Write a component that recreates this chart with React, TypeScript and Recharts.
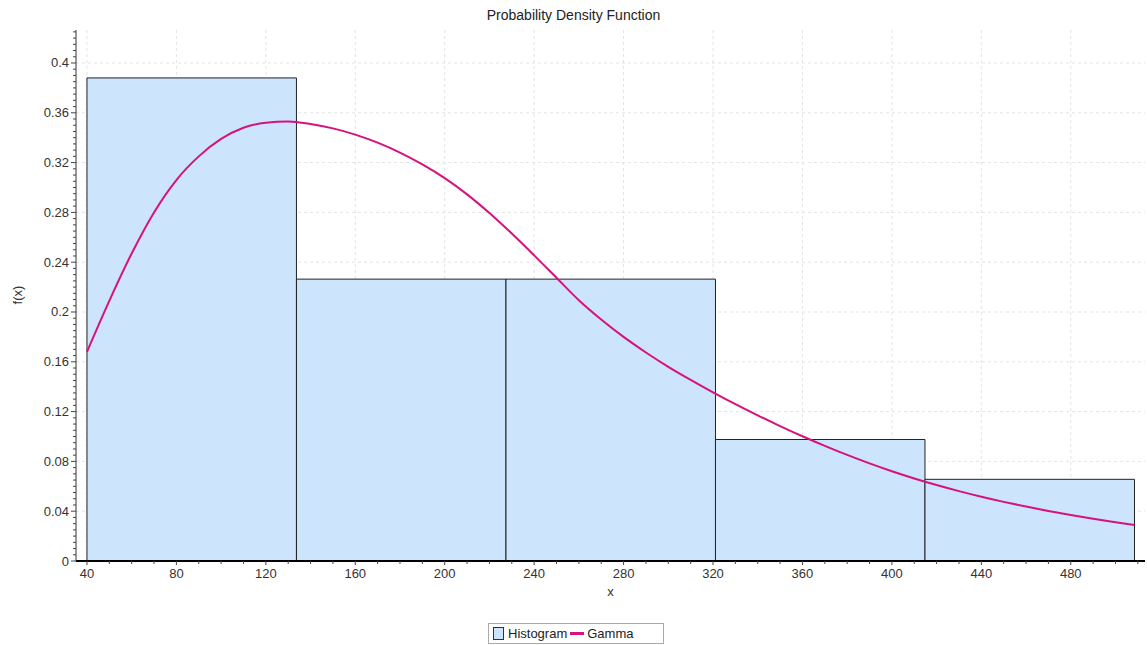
import React from "react";
import { ComposedChart, Line, XAxis, YAxis, CartesianGrid, ReferenceArea, Label } from "recharts";

// histogram bins
const binStart = [40, 133.7, 227.4, 321.1, 414.8];
const binEnd = [133.7, 227.4, 321.1, 414.8, 508.5];
const binDensity = [0.388, 0.2264, 0.2264, 0.0976, 0.0656];

// fitted gamma density, sampled off the curve
const gammaX = [40, 50, 60, 70, 80, 90, 100, 110, 120, 130, 140, 150, 160, 170, 180, 190, 200, 210, 220, 230, 240, 250, 260, 270, 280, 290, 300, 310, 320, 330, 340, 350, 360, 370, 380, 390, 400, 410, 420, 430, 440, 450, 460, 470, 480, 490, 500, 508.5];
const gammaF = [0.168, 0.209, 0.247, 0.28, 0.306, 0.325, 0.339, 0.348, 0.352, 0.353, 0.351, 0.3475, 0.3425, 0.336, 0.328, 0.3185, 0.3075, 0.2945, 0.2795, 0.263, 0.2455, 0.2275, 0.2095, 0.194, 0.18, 0.1675, 0.156, 0.1455, 0.1355, 0.126, 0.117, 0.1084, 0.1002, 0.0925, 0.0852, 0.0784, 0.0721, 0.0663, 0.061, 0.0561, 0.0516, 0.0475, 0.0437, 0.0402, 0.037, 0.034, 0.0312, 0.029];

const xMajor = [40, 80, 120, 160, 200, 240, 280, 320, 360, 400, 440, 480];
const yMajor = [0, 0.04, 0.08, 0.12, 0.16, 0.2, 0.24, 0.28, 0.32, 0.36, 0.4];

const xTicks = Array.from({ length: 48 }, (_, i) => 40 + i * 10);
const yTicks = Array.from({ length: 86 }, (_, i) => i * 0.005);

const curve = gammaX.map((x, i) => ({ x, f: gammaF[i] }));

const FONT = "'Liberation Sans', Arial, sans-serif";

const XTick = (props: any) => {
  const { x, y, payload } = props;
  const v = payload.value;
  const major = Math.abs(v % 40) < 1e-6;
  return (
    <g>
      <line x1={x} x2={x} y1={y} y2={y + (major ? 4 : 3)} stroke="#444" />
      {major && (
        <text x={x} y={y + 17} textAnchor="middle" fontSize={13} fill="#333" fontFamily={FONT}>
          {v}
        </text>
      )}
    </g>
  );
};

const YTick = (props: any) => {
  const { x, y, index } = props;
  const major = index % 8 === 0;
  return (
    <g>
      <line x1={x - (major ? 5 : 3)} x2={x} y1={y} y2={y} stroke="#444" />
      {major && (
        <text x={x - 7} y={y + 4.5} textAnchor="end" fontSize={13} fill="#333" fontFamily={FONT}>
          {Number(props.payload.value.toFixed(2)).toString()}
        </text>
      )}
    </g>
  );
};

export default function App() {
  return (
    <div style={{ position: "absolute", left: 0, top: 0, width: 1147, height: 645, background: "#fff", fontFamily: FONT }}>
      <div style={{ position: "absolute", top: 7, left: 0, width: 1147, textAlign: "center", fontSize: 14, color: "#222", lineHeight: "16px" }}>
        Probability Density Function
      </div>
      <ComposedChart width={1147} height={610} data={curve} margin={{ top: 30, right: 2, bottom: 0, left: 0 }}>
        <CartesianGrid stroke="#e3e3e3" strokeDasharray="3 3" horizontalValues={yMajor} verticalValues={xMajor} />
        <XAxis
          dataKey="x"
          type="number"
          domain={[35.1, 513.2]}
          allowDataOverflow
          ticks={xTicks}
          interval={0}
          tick={<XTick />}
          tickSize={0}
          tickMargin={0}
          tickLine={false}
          height={49}
          axisLine={{ stroke: "#000", strokeWidth: 2 }}
        >
          <Label
            content={(p: any) => (
              <text x={p.viewBox.x + p.viewBox.width / 2} y={p.viewBox.y + 35} textAnchor="middle" fontSize={13} fill="#333" fontFamily={FONT}>
                x
              </text>
            )}
          />
        </XAxis>
        <XAxis xAxisId="top" orientation="top" type="number" domain={[35.1, 513.2]} height={0} tick={false} tickLine={false} axisLine={{ stroke: "#333" }} />
        <YAxis
          type="number"
          domain={[0, 0.4265]}
          allowDataOverflow
          ticks={yTicks}
          interval={0}
          tick={<YTick />}
          tickSize={0}
          tickMargin={0}
          tickLine={false}
          width={76}
          axisLine={{ stroke: "#333" }}
        >
          <Label
            content={() => (
              <text x={22} y={295} textAnchor="middle" fontSize={13} fill="#333" fontFamily={FONT} transform="rotate(-90 22 295)">
                f(x)
              </text>
            )}
          />
        </YAxis>
        <YAxis yAxisId="right" orientation="right" type="number" domain={[0, 1]} width={0} tick={false} tickLine={false} axisLine={{ stroke: "#333" }} />
        {binStart.map((s, i) => (
          <ReferenceArea
            key={i}
            x1={s}
            x2={binEnd[i]}
            y1={0}
            y2={binDensity[i]}
            fill="#cce4fc"
            fillOpacity={1}
            stroke="#222"
            strokeWidth={1}
            ifOverflow="visible"
          />
        ))}
        <Line type="monotone" dataKey="f" stroke="#d6127e" strokeWidth={2} dot={false} isAnimationActive={false} />
      </ComposedChart>
      <div
        style={{
          position: "absolute",
          left: 488,
          top: 623,
          width: 174,
          height: 19,
          border: "1px solid #aaa",
          display: "flex",
          alignItems: "center",
          fontSize: 13,
          color: "#222",
        }}
      >
        <span style={{ display: "inline-block", width: 9, height: 11, marginLeft: 4, background: "#cce4fc", border: "1px solid #333" }} />
        <span style={{ marginLeft: 4 }}>Histogram</span>
        <span style={{ display: "inline-block", width: 14, height: 3, marginLeft: 3, background: "#d6127e" }} />
        <span style={{ marginLeft: 3 }}>Gamma</span>
      </div>
    </div>
  );
}
